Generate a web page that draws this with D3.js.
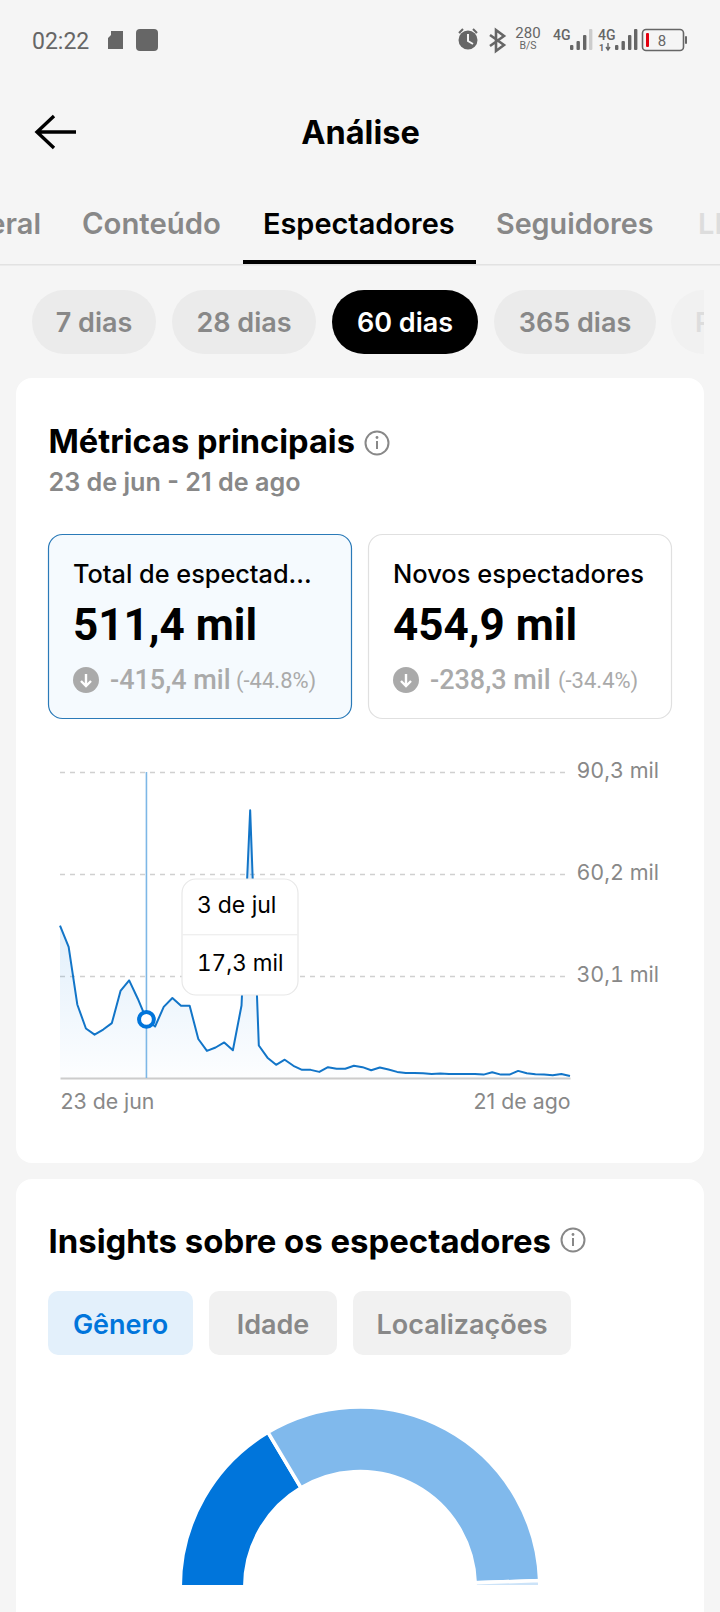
<!DOCTYPE html>
<html>
<head>
<meta charset="utf-8">
<script src="https://cdn.jsdelivr.net/npm/d3@7"></script>
<style>
  html, body { margin: 0; padding: 0; background: #f5f5f5; }
  svg { display: block; }
  text { font-family: Inter, "Noto Sans", sans-serif; }
  .tnum { font-feature-settings: "tnum"; }
</style>
</head>
<body>
<svg id="chart"></svg>
<script>
// daily viewers in thousands, 23 jun to 21 ago
const viewers = [
  45.0, 38.7, 21.7, 14.6, 12.8, 14.3, 16.2, 25.7, 28.8, 23.4,
  17.3, 15.2, 21.0, 23.6, 21.3, 21.3, 11.5, 8.0, 9.0, 10.5,
  8.2, 21.4, 79.0, 9.6, 6.0, 3.9, 5.4, 3.6, 2.4, 2.4,
  1.8, 3.2, 2.75, 2.75, 3.6, 3.2, 2.3, 3.1, 2.5, 1.8,
  1.5, 1.5, 1.4, 1.2, 1.3, 1.2, 1.2, 1.2, 1.2, 1.0,
  1.7, 1.0, 1.0, 2.1, 1.4, 1.1, 1.0, 0.8, 1.2, 0.6,
];
const yTicks = [30.1, 60.2, 90.3];
const yTickLabels = ["30,1 mil", "60,2 mil", "90,3 mil"];
const xTicks = [0, 59];
const xTickLabels = ["23 de jun", "21 de ago"];
const selectedDay = 10;

const genderLabels = ["Masculino", "Feminino", "Outros"];
const genderShares = [32.9, 66.0, 1.1];
const genderColors = ["#0075db", "#80b9ec", "#cce3f8"];

const w = 720;
const h = 1612;
const svg = d3.select("#chart").attr("width", w).attr("height", h);

function txt(x, y, s, size, weight, color, anchor) {
  return svg
    .append("text")
    .attr("x", x)
    .attr("y", y)
    .attr("font-size", size)
    .attr("font-weight", weight)
    .attr("fill", color)
    .attr("text-anchor", anchor || "start")
    .text(s);
}

function box(x, y, bw, bh, r, fill, stroke) {
  return svg
    .append("rect")
    .attr("x", x)
    .attr("y", y)
    .attr("width", bw)
    .attr("height", bh)
    .attr("rx", r)
    .attr("fill", fill)
    .attr("stroke", stroke || "none");
}

function infoIcon(cx, cy) {
  const g = svg.append("g").attr("transform", `translate(${cx},${cy})`);
  g.append("circle").attr("r", 11.5).attr("fill", "none").attr("stroke", "#888").attr("stroke-width", 2);
  g.append("rect").attr("x", -1).attr("y", -2).attr("width", 2).attr("height", 8).attr("fill", "#888");
  g.append("circle").attr("cy", -5.5).attr("r", 1.4).attr("fill", "#888");
}

function downIcon(cx, cy) {
  const g = svg.append("g").attr("transform", `translate(${cx},${cy})`);
  g.append("circle").attr("r", 13).attr("fill", "#aaa");
  g.append("path")
    .attr("d", "M0,-6V6M-5,1L0,6L5,1")
    .attr("fill", "none")
    .attr("stroke", "#fff")
    .attr("stroke-width", 2.4);
}

// status bar
const grey = "#666";
txt(32, 49, "02:22", 23, 400, grey).style("font-family", "Roboto");
svg.append("path").attr("d", "M111,31H123V49H108V38L111,35Z").attr("fill", grey);
box(136, 29, 22, 22, 4, grey);
svg.append("circle").attr("cx", 468).attr("cy", 40).attr("r", 9.5).attr("fill", grey);
svg.append("path").attr("d", "M468,34V41L473,44").attr("fill", "none").attr("stroke", "#f5f5f5").attr("stroke-width", 2);
svg.append("path").attr("d", "M459,33L463,29M477,33L473,29").attr("stroke", grey).attr("stroke-width", 2);
svg.append("path")
  .attr("d", "M490,35L504,45L496,51V30L504,36L490,46")
  .attr("fill", "none")
  .attr("stroke", grey)
  .attr("stroke-width", 2.6);
txt(528, 38, "280", 15, 400, grey, "middle").style("font-family", "Roboto");
txt(528, 49, "B/S", 10.5, 400, grey, "middle").style("font-family", "Roboto");
txt(553, 40, "4G", 14, 500, grey).style("font-family", "Roboto");
txt(598, 40, "4G", 14, 500, grey).style("font-family", "Roboto");
txt(599, 51, "1", 9, 700, grey).style("font-family", "Roboto");
svg.append("path").attr("d", "M608,43V50M606,47L608,50L610,47").attr("stroke", grey).attr("fill", "none").attr("stroke-width", 1.4);
[[570, 45], [576.5, 41], [583, 35], [589, 29]].forEach((b, i) => {
  box(b[0], b[1], 3.4, 50 - b[1], 1, i === 3 ? "#ccc" : grey);
  box(b[0] + 45, b[1], 3.4, 50 - b[1], 1, grey);
});
box(642.5, 29.5, 41, 21, 3.5, "none", grey).attr("stroke-width", 1.6);
box(646, 33, 3, 14, 1, "#e3000f");
box(685, 36, 2, 8, 1, grey);
txt(662, 46, "8", 15, 400, grey, "middle").style("font-family", "Roboto");

// header
svg.append("path")
  .attr("d", "M76,132H38M54,116L37,132L54,148")
  .attr("fill", "none")
  .attr("stroke", "#000")
  .attr("stroke-width", 3.4);
txt(360.5, 144, "Análise", 32.5, 700, "#000", "middle");

// tabs
txt(41, 234, "Geral", 29, 600, "#888", "end");
txt(82, 234, "Conteúdo", 29.3, 600, "#888");
txt(263, 234, "Espectadores", 28.9, 600, "#000");
txt(496, 234, "Seguidores", 28.7, 600, "#888");
txt(698, 234, "LIVE", 29, 600, "#ddd");
box(0, 264, w, 1.5, 0, "#e2e2e2");
box(243, 260, 233, 4, 0, "#000");

// period pills
const pills = [
  ["7 dias", 32, 124],
  ["28 dias", 172, 144],
  ["60 dias", 332, 146],
  ["365 dias", 494, 162],
];
pills.forEach((p) => {
  const on = p[0] === "60 dias";
  box(p[1], 290, p[2], 64, 32, on ? "#000" : "#ebebeb");
  txt(p[1] + p[2] / 2, 332, p[0], 27, 600, on ? "#fff" : "#888", "middle");
});
svg.append("clipPath").attr("id", "pillClip").append("rect").attr("x", 660).attr("y", 280).attr("width", 44).attr("height", 80);
const lastPill = svg.append("g").attr("clip-path", "url(#pillClip)");
lastPill.append("rect").attr("x", 671).attr("y", 290).attr("width", 120).attr("height", 64).attr("rx", 32).attr("fill", "#f1f1f1");
lastPill.append("text").attr("x", 695).attr("y", 332).attr("font-size", 27).attr("font-weight", 600).attr("fill", "#ddd").text("Personalizado");

// white cards
box(16, 378, 688, 785, 16, "#fff");
box(16, 1179, 688, 460, 16, "#fff");

txt(48.5, 453, "Métricas principais", 32.6, 700, "#000");
infoIcon(377, 443);
txt(48.5, 491, "23 de jun - 21 de ago", 25.2, 600, "#888");

// metric boxes
box(48.5, 534.5, 303, 184, 14, "#f5fafe", "#2a7ab8").attr("stroke-width", 1.2);
box(368.5, 534.5, 303, 184, 14, "#fff", "#e0e0e0").attr("stroke-width", 1.2);
txt(73, 583, "Total de espectad...", 25.3, 500, "#000");
txt(393, 583, "Novos espectadores", 25.5, 500, "#000");
txt(73, 640, "511,4 mil", 44, 700, "#000").style("font-family", "Roboto");
txt(393, 640, "454,9 mil", 44, 700, "#000").style("font-family", "Roboto");
downIcon(86, 680);
downIcon(406, 680);
txt(110, 689, "-415,4 mil", 27, 500, "#aaa").style("font-family", "Roboto");
txt(430, 689, "-238,3 mil", 27, 500, "#aaa").style("font-family", "Roboto");
txt(236, 688, "(-44.8%)", 22, 400, "#aaa").style("font-family", "Roboto");
txt(558, 688, "(-34.4%)", 22, 400, "#aaa").style("font-family", "Roboto");

// line chart
const x = d3.scaleLinear().domain([0, viewers.length - 1]).range([60, 570]);
const y = d3.scaleLinear().domain([0, 90.3]).range([1078, 772]);

const defs = svg.append("defs");
const grad = defs.append("linearGradient").attr("id", "fade").attr("x1", 0).attr("y1", 0).attr("x2", 0).attr("y2", 1);
grad.append("stop").attr("offset", "0%").attr("stop-color", "#0075db").attr("stop-opacity", 0.2);
grad.append("stop").attr("offset", "100%").attr("stop-color", "#0075db").attr("stop-opacity", 0.01);

const yAxis = svg
  .append("g")
  .attr("transform", "translate(60,0)")
  .call(
    d3.axisRight(y)
      .tickValues(yTicks)
      .tickSize(505)
      .tickFormat((d, i) => yTickLabels[i])
  );
yAxis.select(".domain").remove();
yAxis.selectAll("line").attr("stroke", "#d0d0d0").attr("stroke-width", 1.4).attr("stroke-dasharray", "5 5");
yAxis.selectAll("text")
  .attr("class", "tnum")
  .attr("x", 599)
  .attr("y", -1)
  .attr("dy", "0.3em")
  .attr("text-anchor", "end")
  .attr("font-size", 21.5)
  .attr("font-family", "Inter")
  .attr("fill", "#888");

const xAxis = svg
  .append("g")
  .attr("transform", "translate(0,1078)")
  .call(
    d3.axisBottom(x)
      .tickValues(xTicks)
      .tickSize(0)
      .tickFormat((d, i) => xTickLabels[i])
  );
xAxis.select(".domain").attr("stroke", "#ccc").attr("stroke-width", 2);
xAxis.selectAll("text")
  .attr("y", 31)
  .attr("dy", 0)
  .attr("font-size", 21.3)
  .attr("font-family", "Inter")
  .attr("fill", "#888")
  .attr("text-anchor", (d, i) => (i === 0 ? "start" : "end"));

const area = d3.area().x((d, i) => x(i)).y0(y(0)).y1((d) => y(d));
const line = d3.line().x((d, i) => x(i)).y((d) => y(d));

svg.append("path").datum(viewers).attr("d", area).attr("fill", "url(#fade)");
svg.append("path")
  .datum(viewers)
  .attr("d", line)
  .attr("fill", "none")
  .attr("stroke", "#1275c8")
  .attr("stroke-width", 2)
  .attr("stroke-linejoin", "round");

svg.append("line")
  .attr("x1", x(selectedDay))
  .attr("x2", x(selectedDay))
  .attr("y1", y(90.3))
  .attr("y2", y(0))
  .attr("stroke", "#7db7e6")
  .attr("stroke-width", 1.6);
svg.append("circle")
  .attr("cx", x(selectedDay))
  .attr("cy", y(viewers[selectedDay]))
  .attr("r", 7.4)
  .attr("fill", "#fff")
  .attr("stroke", "#0075db")
  .attr("stroke-width", 4);

// tooltip
box(182, 879, 116, 116, 14, "#fff", "#e8e8e8").attr("stroke-width", 1.2);
box(182, 934, 116, 1.4, 0, "#efefef");
txt(197, 913, "3 de jul", 23, 400, "#000");
txt(197, 971, "17,3 mil", 22.5, 400, "#000").attr("class", "tnum");

// insights card
txt(48.5, 1253, "Insights sobre os espectadores", 32.9, 700, "#000");
infoIcon(573, 1240);

const segButtons = [
  ["Gênero", 48, 145],
  ["Idade", 209, 128],
  ["Localizações", 353, 218],
];
segButtons.forEach((b, i) => {
  box(b[1], 1291, b[2], 64, 10, i === 0 ? "#e3f0fb" : "#f1f1f1");
  txt(b[1] + b[2] / 2, 1334, b[0], 27, 600, i === 0 ? "#0075db" : "#888", "middle");
});

// half donut
const pie = d3.pie().sort(null).startAngle(-Math.PI / 2).endAngle(Math.PI / 2);
const arc = d3.arc().innerRadius(115.25).outerRadius(179.75);
svg.append("g")
  .attr("transform", "translate(360,1586.75)")
  .selectAll("path")
  .data(pie(genderShares))
  .enter()
  .append("path")
  .attr("d", arc)
  .attr("fill", (d, i) => genderColors[i])
  .attr("stroke", "#fff")
  .attr("stroke-width", 3.5)
  .append("title")
  .text((d, i) => genderLabels[i]);
</script>
</body>
</html>
